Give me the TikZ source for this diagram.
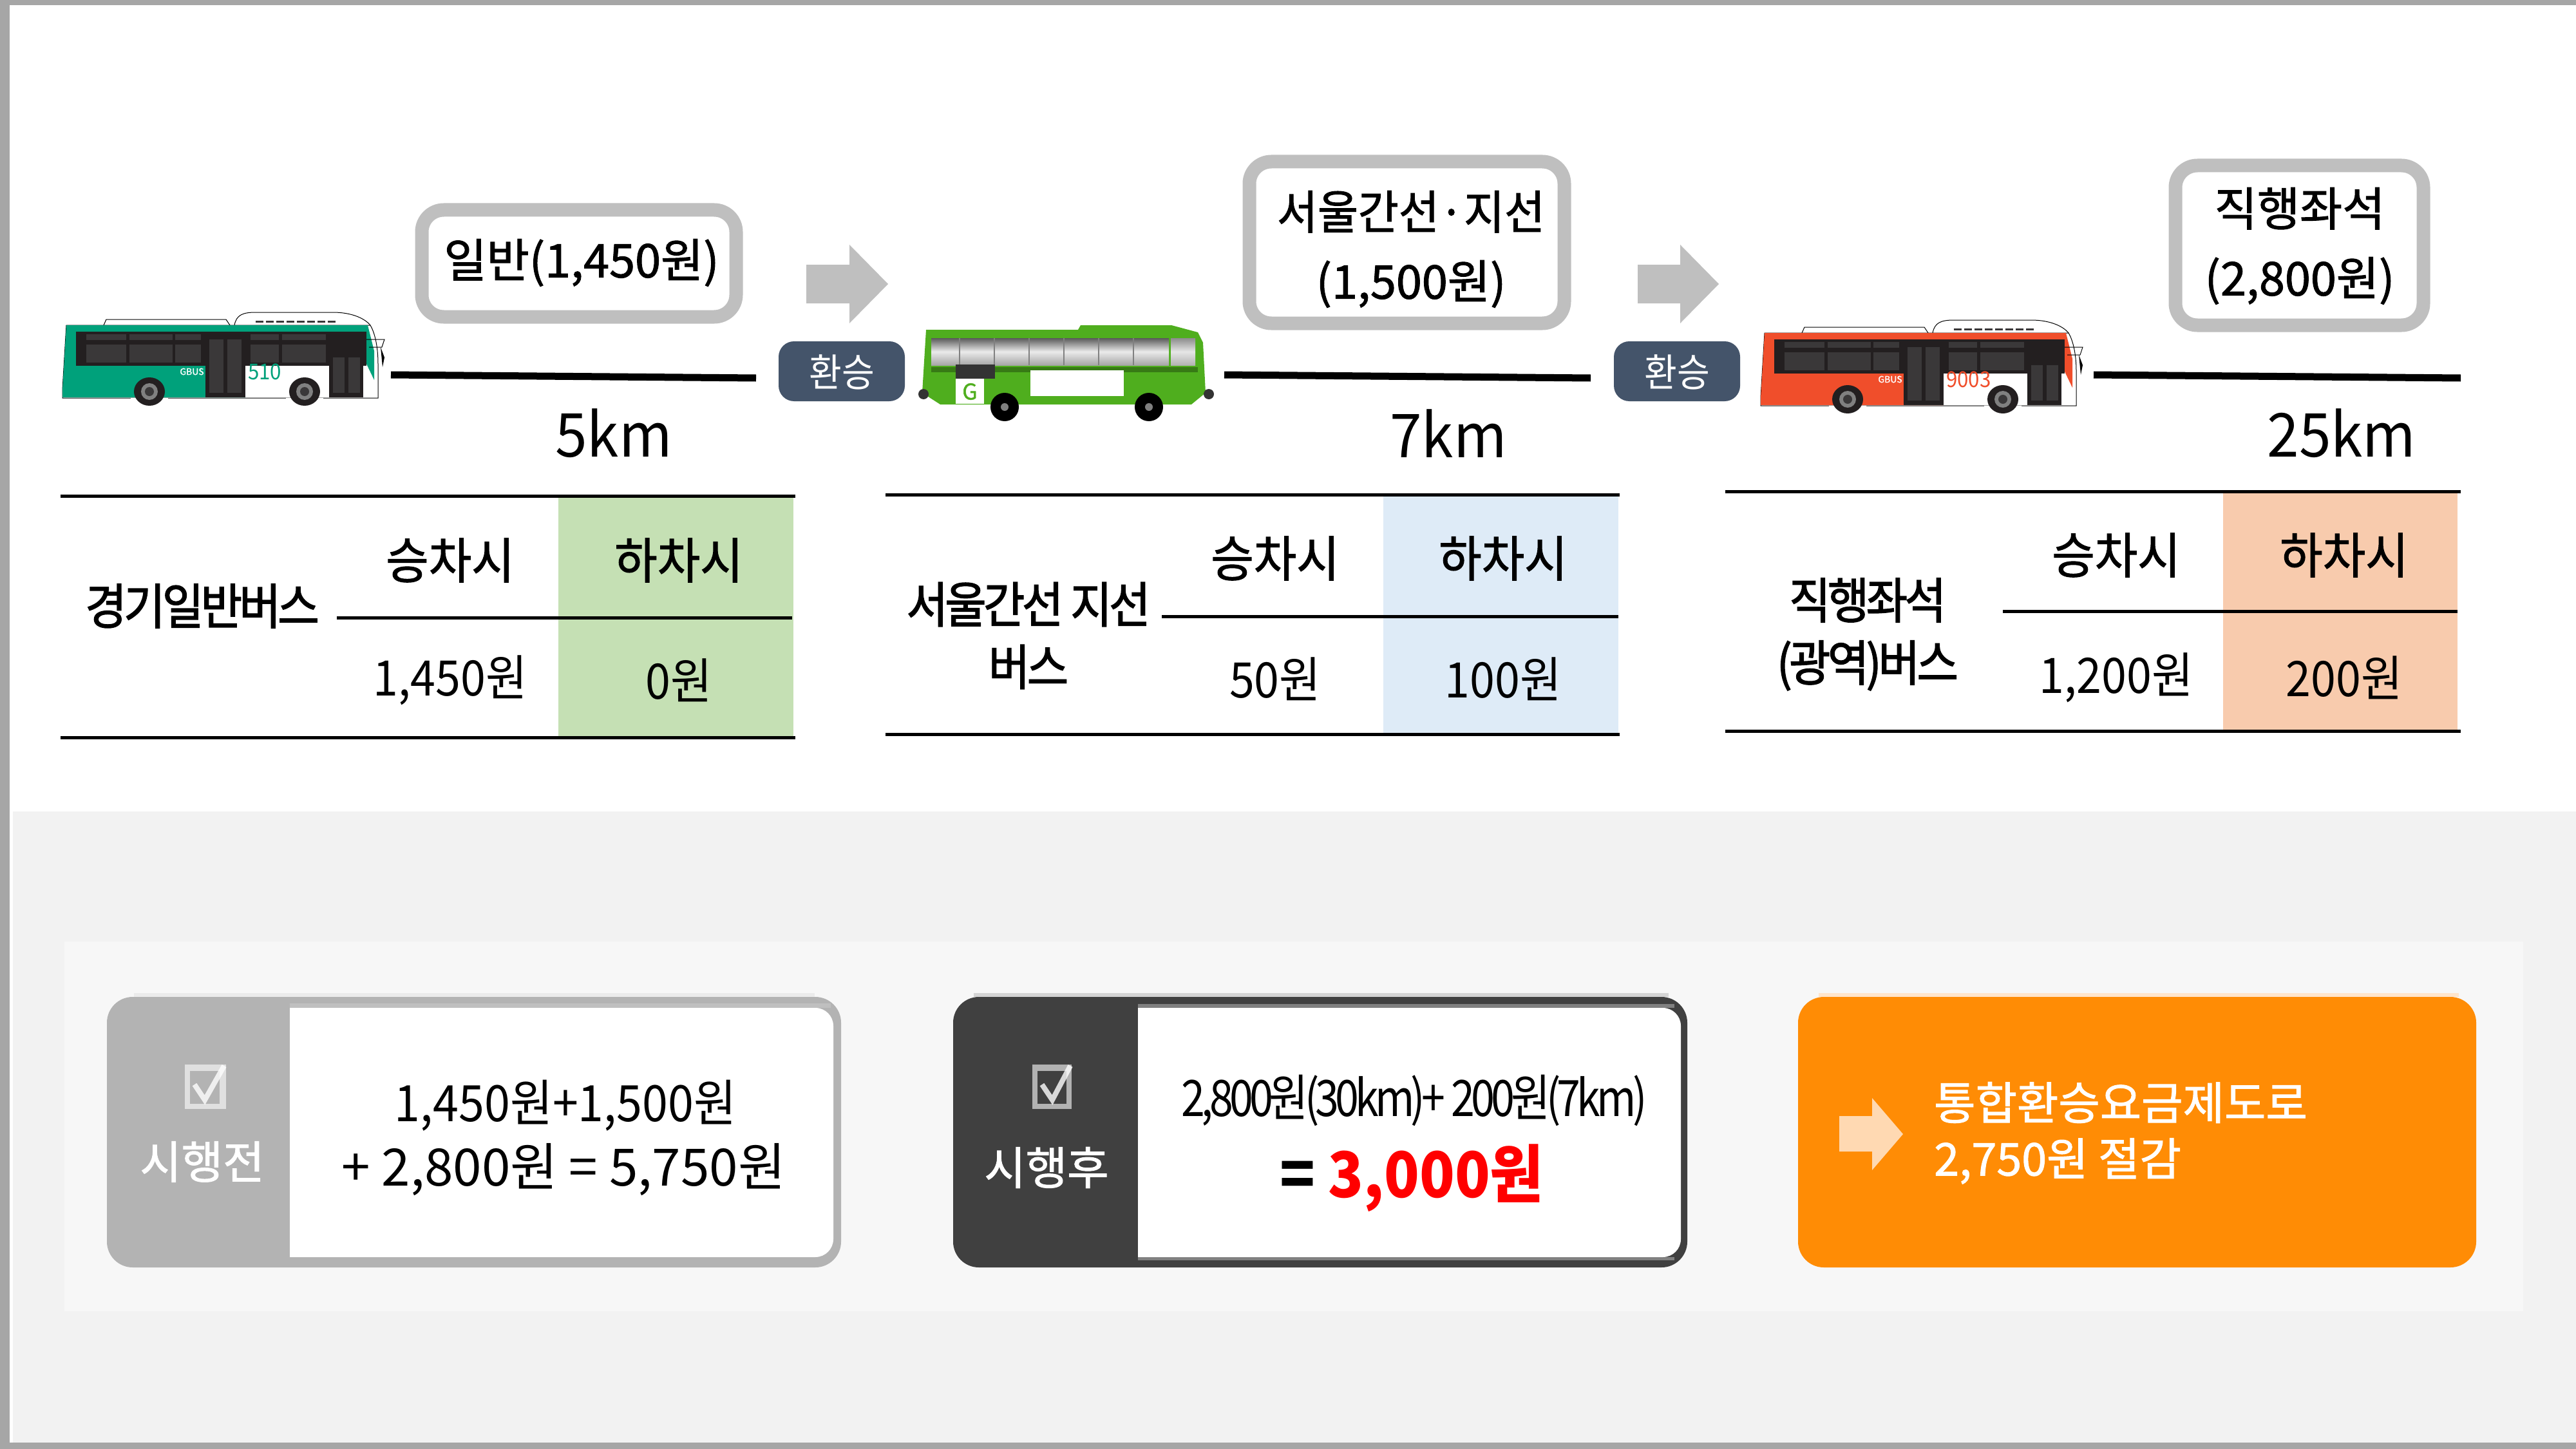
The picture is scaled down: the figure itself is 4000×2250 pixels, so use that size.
\documentclass[tikz,border=0pt]{standalone}
\usepackage{fontspec}
\setmainfont{Noto Sans CJK KR}
\newfontfamily\fullkr[FakeBold=1.4]{Noto Sans CJK KR}
\newfontfamily\headkr[FakeStretch=0.95,FakeBold=1.4]{Noto Sans CJK KR}
\newfontfamily\tightkr[FakeStretch=0.92]{Noto Sans CJK KR}
\newfontfamily\crampkr[FakeStretch=0.92,LetterSpace=-6,FakeBold=1.8]{Noto Sans CJK KR}
\newfontfamily\newsumkr[FakeStretch=0.85,LetterSpace=-7.5]{Noto Sans CJK KR}
\newfontfamily\kmkr[FakeStretch=0.95]{Noto Sans CJK KR}
\definecolor{frameGray}{HTML}{A6A6A6}
\definecolor{bandGray}{HTML}{BFBFBF}
\definecolor{sideGray}{HTML}{B3B3B3}
\definecolor{sideDark}{HTML}{404040}
\definecolor{slate}{HTML}{44546A}
\definecolor{busTeal}{HTML}{00A17B}
\definecolor{busRed}{HTML}{F04E2B}
\definecolor{busGreen}{HTML}{4FAE1E}
\definecolor{busDark}{HTML}{231F20}
\definecolor{paneGray}{HTML}{3A3839}
\definecolor{cellGreen}{HTML}{C5E0B4}
\definecolor{cellBlue}{HTML}{DEEBF7}
\definecolor{cellOrange}{HTML}{F8CBAD}
\definecolor{orangeBox}{HTML}{FF8C05}
\tikzset{
  farebox/.style={draw=bandGray,line width=21pt,rounded corners=34pt,fill=white},
  farelabel/.style={inner sep=0,align=center,font=\fullkr\fontsize{72}{108}\selectfont},
  transfer/.style={fill=slate,rounded corners=24pt},
  transferlabel/.style={inner sep=0,text=white,font=\tightkr\fontsize{60}{70}\selectfont},
  kmlabel/.style={inner sep=0,font=\kmkr\fontsize{94}{110}\selectfont},
  tablerule/.style={line width=5pt},
  track/.style={line width=11pt},
  headlabel/.style={inner sep=0,font=\headkr\fontsize{76}{90}\selectfont},
  feelabel/.style={inner sep=0,font=\tightkr\fontsize{76}{90}\selectfont},
  busname/.style={inner sep=0,align=center,font=\crampkr\fontsize{76}{97}\selectfont},
  sidelabel/.style={inner sep=0,text=white,font=\fullkr\fontsize{70}{80}\selectfont},
  sumlabel/.style={inner sep=0,font=\fontsize{80}{90}\selectfont},
  pics/citybus/.style 2 args={code={
    % roof units
    \draw[fill=white,line width=1pt] (64,0) -- (68,-9) -- (254,-9) -- (260,0);
    \draw[fill=white,line width=1pt] (267,0) .. controls (270,-16) and (280,-20) .. (300,-20)
      -- (420,-20) .. controls (450,-20) and (470,-10) .. (478,0);
    \foreach \i in {0,16,...,112} \draw[line width=3pt,paneGray] (\i+300,-6) -- +(12,0);
    % body
    \draw[fill=white,line width=1pt] (0,113) -- (490,113) -- (490,60) .. controls (490,30) and (484,10) .. (478,0) -- (6,0) -- (0,100) -- cycle;
    \fill[#1] (0,112) -- (0,100) -- (6,0) -- (474,0) -- (484,40) -- (484,85) -- (472,60) -- (414,60) -- (284,60) -- (284,112) -- cycle;
    \fill[busDark] (21,10) -- (472,10) -- (472,63) -- (21,63) -- cycle;
    \fill[white] (284,63) rectangle (414,112);
    \fill[busDark] (222,10) rectangle (284,112);
    \fill[busDark] (414,40) rectangle (467,112);
    \foreach \a/\b in {37/99,104/171,175/215,292/336,341/409} {
      \fill[paneGray] (\a,14) rectangle (\b,23);
      \fill[paneGray] (\a,30) rectangle (\b,58);
    }
    \fill[paneGray] (228,22) rectangle (250,105);
    \fill[paneGray] (256,22) rectangle (278,105);
    \fill[paneGray] (420,50) rectangle (438,105);
    \fill[paneGray] (444,50) rectangle (462,105);
    % front glass and mirror
    \draw[line width=1pt] (472,22) -- (500,22) -- (496,34) -- (476,34);
    \fill[black] (494,34) -- (500,50) -- (497,65) -- cycle;
    % wheels
    \foreach \w in {135,376} {
      \fill[white] (\w-29,113) arc[start angle=180,end angle=0,x radius=29,y radius=33];
      \fill[busDark] (\w,103) ellipse[x radius=24,y radius=22];
      \fill[gray] (\w,103) circle[radius=13];
      \fill[paneGray] (\w,103) circle[radius=7];
    }
    % lettering
    \node[inner sep=0,text=white,font=\fullkr\fontsize{14}{16}\selectfont] (gbus) at (201,72) {GBUS};
    \node[inner sep=0,anchor=west,text=#1,font=\tightkr\fontsize{34}{40}\selectfont] (busno) at (288,72) {#2};
  }}
}
\begin{document}
\begin{tikzpicture}[x=1pt,y=-1pt]
\useasboundingbox (0,0) rectangle (4000,2250);
% frame and panels
\fill[frameGray] (0,0) rectangle (4000,8);
\fill[frameGray] (0,0) rectangle (15,2250);
\fill[frameGray] (0,2240) rectangle (4000,2250);
\fill[black!5] (20,1260) rectangle (4000,2240);
\fill[black!3] (100,1462) rectangle (3918,2036);

% first leg
\pic at (97,505) {citybus={busTeal}{510}};
\coordinate (a1) at (607,582);
\coordinate (b1) at (1174,587);
\draw[track] (a1) -- (b1);
\draw[farebox] (655,326) rectangle (1143,492);
\node[farelabel] (fare1) at (903,408) {일반(1,450원)};
\node[kmlabel] (km1) at (953,673) {5km};
\fill[bandGray] (1252,411) -- (1319,411) -- (1319,380) -- (1379,441) -- (1319,502) -- (1319,471) -- (1252,471) -- cycle;
\fill[transfer] (1209,530) rectangle (1405,623);
\node[transferlabel] (tr1) at (1307,578) {환승};

% second leg
\fill[busGreen] (1438,512) -- (1674,512) -- (1678,505) -- (1819,505) -- (1860,516) -- (1868,532) -- (1872,610) -- (1850,628) -- (1460,628) -- (1432,610) -- cycle;
\shade[top color=black!65,bottom color=black!35,middle color=black!8] (1446,525) rectangle (1815,567);
\foreach \i in {0,...,5} \draw[line width=2pt,black!50] (1490+54*\i,525) -- (1490+54*\i,567);
\shade[top color=black!45,bottom color=black!30,middle color=black!10] (1818,525) rectangle (1856,567);
\fill[busGreen!70!black] (1446,570) rectangle (1860,578);
\fill[black!80] (1484,566) rectangle (1545,588);
\fill[white] (1600,575) rectangle (1745,615);
\fill[white] (1484,588) rectangle (1528,627);
\node[inner sep=0,text=busGreen,font=\fullkr\fontsize{34}{36}\selectfont] (gmark) at (1506,608) {G};
\foreach \x in {1434,1877} \fill[black!80] (\x,612) circle[radius=8];
\foreach \x in {1560,1784} {
  \fill[black] (\x,632) circle[radius=22];
  \fill[gray] (\x,632) circle[radius=6];
}
\coordinate (a2) at (1901,582);
\coordinate (b2) at (2470,587);
\draw[track] (a2) -- (b2);
\draw[farebox] (1940,251) rectangle (2429,502);
\node[farelabel] (fare2) at (2191,387) {{\headkr 서울간선·지선}\\(1,500원)};
\node[kmlabel] (km2) at (2249,673) {7km};
\fill[bandGray] (2543,411) -- (2609,411) -- (2609,380) -- (2669,441) -- (2609,502) -- (2609,471) -- (2543,471) -- cycle;
\fill[transfer] (2506,530) rectangle (2702,623);
\node[transferlabel] (tr2) at (2604,578) {환승};

% third leg
\pic at (2734,517) {citybus={busRed}{9003}};
\coordinate (a3) at (3251,582);
\coordinate (b3) at (3821,587);
\draw[track] (a3) -- (b3);
\draw[farebox] (3378,257) rectangle (3763,505);
\node[farelabel] (fare3) at (3571,382) {직행좌석\\(2,800원)};
\node[kmlabel] (km3) at (3636,673) {25km};

% first table
\fill[cellGreen] (867,772) rectangle (1232,1143);
\draw[tablerule] (94,770) -- (1235,770);
\draw[tablerule] (523,959) -- (1230,959);
\draw[tablerule] (94,1145) -- (1235,1145);
\node[busname] (name1) at (314,941) {경기일반버스};
\node[headlabel] (on1) at (699,870) {승차시};
\node[headlabel] (off1) at (1054,870) {하차시};
\node[feelabel] (onfee1) at (699,1056) {1,450원};
\node[feelabel] (offfee1) at (1054,1056) {0원};

% second table
\fill[cellBlue] (2148,770) rectangle (2513,1138);
\draw[tablerule] (1375,768) -- (2515,768);
\draw[tablerule] (1804,957) -- (2513,957);
\draw[tablerule] (1375,1140) -- (2515,1140);
\node[busname] (name2) at (1597,987) {서울간선 지선\\버스};
\node[headlabel] (on2) at (1980,867) {승차시};
\node[headlabel] (off2) at (2334,867) {하차시};
\node[feelabel] (onfee2) at (1980,1054) {50원};
\node[feelabel] (offfee2) at (2334,1054) {100원};

% third table
\fill[cellOrange] (3452,765) rectangle (3816,1133);
\draw[tablerule] (2679,763) -- (3821,763);
\draw[tablerule] (3110,949) -- (3816,949);
\draw[tablerule] (2679,1135) -- (3821,1135);
\node[busname] (name3) at (2900,985) {직행좌석\\(광역)버스};
\node[headlabel] (on3) at (3286,862) {승차시};
\node[headlabel] (off3) at (3640,862) {하차시};
\node[feelabel] (onfee3) at (3286,1052) {1,200원};
\node[feelabel] (offfee3) at (3640,1052) {200원};

% before
\fill[black!8] (208,1542) rectangle (1265,1548);
\fill[sideGray,rounded corners=40pt] (166,1548) rectangle (1306,1968);
\fill[bandGray] (450,1558) rectangle (1290,1565);
\fill[white] (450,1565) [rounded corners=28pt] -- (1294,1565) -- (1294,1952) [sharp corners] -- (450,1952) -- cycle;
\fill[white,opacity=.6] (287,1653) rectangle (351,1722);
\fill[sideGray] (295,1663) rectangle (341,1714);
\draw[white,opacity=.8,line width=8pt] (302,1684) -- (318,1708) -- (348,1655);
\node[sidelabel] (before) at (314,1804) {시행전};
\node[sumlabel,font=\tightkr\fontsize{78}{90}\selectfont] (sumA) at (878,1717) {1,450원+1,500원};
\node[sumlabel] (sumB) at (875,1816) {+ 2,800원 = 5,750원};

% after
\fill[black!17] (1512,1542) rectangle (2591,1548);
\fill[sideDark,rounded corners=40pt] (1480,1548) rectangle (2620,1968);
\fill[black!50] (1767,1559) rectangle (2600,1565);
\fill[black!50] (1767,1952) rectangle (2600,1957);
\fill[white] (1767,1565) [rounded corners=28pt] -- (2610,1565) -- (2610,1952) [sharp corners] -- (1767,1952) -- cycle;
\fill[white,opacity=.6] (1603,1653) rectangle (1664,1722);
\fill[sideDark] (1611,1663) rectangle (1656,1714);
\draw[white,opacity=.8,line width=8pt] (1618,1684) -- (1634,1708) -- (1662,1655);
\node[sidelabel] (after) at (1625,1813) {시행후};
\node[inner sep=0,font=\newsumkr\fontsize{78}{90}\selectfont] (newA) at (2196,1709) {2,800원(30km)+ 200원(7km)};
\node[inner sep=0,font=\tightkr\bfseries\fontsize{98}{110}\selectfont] (newB) at (2192,1829) {= \textcolor{red}{3,000원}};

% saving
\fill[orange!20] (2824,1542) rectangle (3818,1548);
\fill[orangeBox,rounded corners=40pt] (2792,1548) rectangle (3845,1968);
\fill[orange!30!white] (2856,1733) -- (2907,1733) -- (2907,1705) -- (2955,1761) -- (2907,1817) -- (2907,1788) -- (2856,1788) -- cycle;
\node[inner sep=0,anchor=west,text=white,font=\fullkr\fontsize{70}{90}\selectfont] (saveA) at (3003,1712) {통합환승요금제도로};
\node[inner sep=0,anchor=west,text=white,font=\fullkr\fontsize{70}{90}\selectfont] (saveB) at (3003,1803) {2,750원 절감};
\end{tikzpicture}
\end{document}
